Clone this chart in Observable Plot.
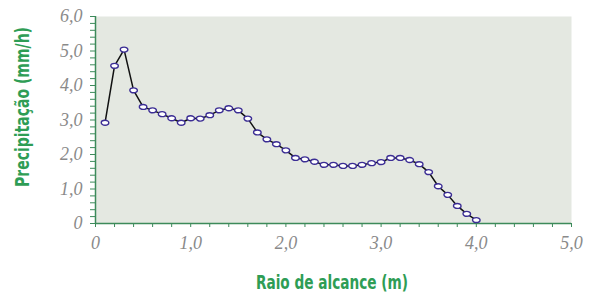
<!DOCTYPE html>
<html>
<head>
<meta charset="utf-8">
<script src="https://cdn.jsdelivr.net/npm/d3@7"></script>
<script src="https://cdn.jsdelivr.net/npm/@observablehq/plot@0.6"></script>
<style>
  html, body { margin: 0; padding: 0; background: #ffffff; }
  #chart { width: 598px; height: 293px; position: relative; }
  .ttl { font-family: "Liberation Sans Narrow", "DejaVu Sans Condensed", "Roboto", sans-serif; font-weight: bold; fill: #2e9d55; }
</style>
</head>
<body>
<div id="chart"></div>
<script>
// Data
const raio = [0.1,0.2,0.3,0.4,0.5,0.6,0.7,0.8,0.9,1.0,1.1,1.2,1.3,1.4,1.5,1.6,1.7,1.8,1.9,2.0,
              2.1,2.2,2.3,2.4,2.5,2.6,2.7,2.8,2.9,3.0,3.1,3.2,3.3,3.4,3.5,3.6,3.7,3.8,3.9,4.0];
const precipitacao = [2.92,4.57,5.04,3.86,3.38,3.28,3.17,3.05,2.92,3.05,3.04,3.14,3.28,3.34,3.28,3.04,2.64,2.44,2.30,2.12,
                      1.90,1.86,1.79,1.70,1.70,1.67,1.67,1.70,1.75,1.78,1.90,1.90,1.84,1.72,1.49,1.08,0.83,0.51,0.28,0.10];
const xTicks = [0,1,2,3,4,5];
const xTickLabels = ["0","1,0","2,0","3,0","4,0","5,0"];
const yTicks = [0,1,2,3,4,5,6];
const yTickLabels = ["0","1,0","2,0","3,0","4,0","5,0","6,0"];
const xTitle = "Raio de alcance (m)";
const yTitle = "Precipitação (mm/h)";

const data = raio.map((x, i) => ({x, y: precipitacao[i]}));
const minorX = d3.range(0, 25.5).map(i => +(i * 0.2).toFixed(1));
const minorY = d3.range(0, 30.5).map(i => +(i * 0.2).toFixed(1));

const green = "#3c8a5a";
const ellipse = {
  draw(ctx, size) {
    const r = Math.sqrt(size / Math.PI);
    const rx = r * 1.3, ry = r * 0.85, k = 0.5523;
    ctx.moveTo(rx, 0);
    ctx.bezierCurveTo(rx, ry * k, rx * k, ry, 0, ry);
    ctx.bezierCurveTo(-rx * k, ry, -rx, ry * k, -rx, 0);
    ctx.bezierCurveTo(-rx, -ry * k, -rx * k, -ry, 0, -ry);
    ctx.bezierCurveTo(rx * k, -ry, rx, -ry * k, rx, 0);
    ctx.closePath();
  }
};

const plot = Plot.plot({
  width: 598,
  height: 293,
  marginLeft: 95,
  marginRight: 27,
  marginTop: 16,
  marginBottom: 70,
  x: {domain: [0, 5]},
  y: {domain: [0, 6]},
  style: {background: "transparent", overflow: "visible"},
  marks: [
    Plot.frame({fill: "#e4e8e1", stroke: null}),
    Plot.axisX({ticks: minorX, tickSize: 4, stroke: green, strokeOpacity: 1, tickFormat: () => "", label: null}),
    Plot.axisY({ticks: minorY, tickSize: 5, stroke: green, strokeOpacity: 1, tickFormat: () => "", label: null}),
    Plot.axisX({ticks: xTicks, tickSize: 0, tickPadding: 13, tickFormat: d => xTickLabels[xTicks.indexOf(d)],
      fontFamily: "Liberation Serif, serif", fontStyle: "italic", fontSize: 18, fill: "#8a8a8a", label: null}),
    Plot.axisY({ticks: yTicks, tickSize: 0, tickPadding: 13, tickFormat: d => yTickLabels[yTicks.indexOf(d)],
      fontFamily: "Liberation Serif, serif", fontStyle: "italic", fontSize: 18, fill: "#8a8a8a", label: null}),
    Plot.ruleX([0], {stroke: green, strokeWidth: 1.5}),
    Plot.ruleY([0], {stroke: green, strokeWidth: 1.5}),
    Plot.line(data, {x: "x", y: "y", stroke: "#111", strokeWidth: 1.5}),
    Plot.dot(data, {x: "x", y: "y", r: 2.9, symbol: ellipse, fill: "white", stroke: "#3b2d94", strokeWidth: 1.4})
  ]
});

const svg = d3.select(plot);
svg.append("text").attr("class", "ttl")
  .attr("transform", "translate(332,289) scale(0.8,1)").attr("text-anchor", "middle")
  .attr("font-size", 19).text(xTitle);
svg.append("text").attr("class", "ttl")
  .attr("transform", "translate(29,107) rotate(-90) scale(0.82,1)").attr("text-anchor", "middle")
  .attr("font-size", 19).text(yTitle);

document.getElementById("chart").appendChild(plot);
</script>
</body>
</html>
